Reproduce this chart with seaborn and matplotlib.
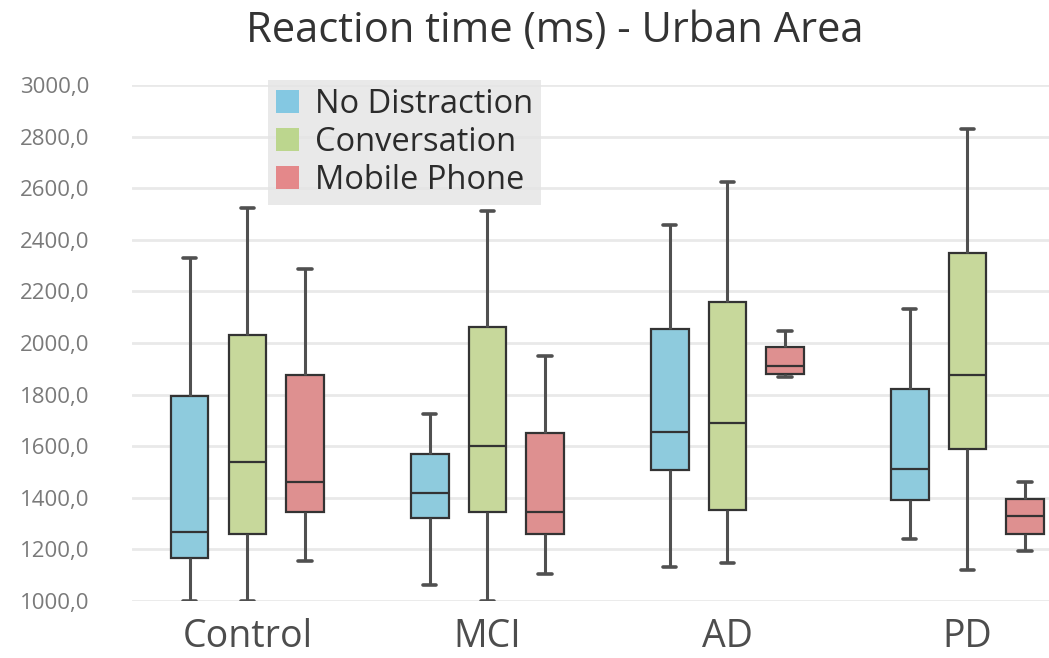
import numpy as np
import pandas as pd
import matplotlib
matplotlib.use("Agg")
import matplotlib.pyplot as plt
import seaborn as sns
from matplotlib.patches import Patch
from matplotlib.ticker import FuncFormatter

# five-number summaries: min, Q1, median, Q3, max
groups = ["Control", "MCI", "AD", "PD"]
conditions = ["No Distraction", "Conversation", "Mobile Phone"]

no_distraction = {
    "Control": [1000, 1165, 1269, 1796, 2328],
    "MCI": [1062, 1320, 1417, 1570, 1725],
    "AD": [1133, 1508, 1654, 2053, 2457],
    "PD": [1239, 1391, 1510, 1821, 2131],
}
conversation = {
    "Control": [1000, 1258, 1540, 2031, 2522],
    "MCI": [1000, 1346, 1602, 2061, 2512],
    "AD": [1146, 1353, 1689, 2158, 2625],
    "PD": [1120, 1588, 1876, 2350, 2828],
}
mobile_phone = {
    "Control": [1156, 1346, 1462, 1876, 2286],
    "MCI": [1105, 1260, 1346, 1652, 1951],
    "AD": [1869, 1880, 1912, 1983, 2047],
    "PD": [1195, 1260, 1329, 1395, 1462],
}

box_colors = ["#8ecbdd", "#c7d89b", "#de9090"]
legend_colors = ["#84c8e2", "#bcd68e", "#e4888a"]

# with five points, linear quartiles land exactly on Q1/median/Q3
rows = []
for cond, table in zip(conditions, [no_distraction, conversation, mobile_phone]):
    for g in groups:
        for v in table[g]:
            rows.append({"group": g, "condition": cond, "value": v})
df = pd.DataFrame(rows)

sns.set_theme(style="white")
plt.rcParams["font.family"] = ["Open Sans", "DejaVu Sans"]

fig = plt.figure(figsize=(10.49, 6.58), dpi=100)
ax = fig.add_axes([0.126, 0.0866, 0.874, 0.7842])

sns.boxplot(data=df, x="group", y="value", hue="condition", order=groups,
            hue_order=conditions, palette=box_colors, whis=np.inf,
            width=0.72, gap=0.35, linecolor="#333333", linewidth=1.6,
            saturation=1, legend=False, ax=ax,
            whiskerprops={"color": "#505050", "linewidth": 2.2},
            capprops={"color": "#505050", "linewidth": 2.6},
            capwidths=0.055)

ax.set_ylim(1000, 3000)
ax.set_xlim(-0.48, 3.34)
ax.set_yticks(np.arange(1000, 3001, 200))
ax.yaxis.set_major_formatter(FuncFormatter(lambda v, p: f"{v:.1f}".replace(".", ",")))
ax.grid(axis="y", color="#e9e9e9", linewidth=2)
ax.set_axisbelow(True)
for s in ax.spines.values():
    s.set_visible(False)
ax.tick_params(axis="y", length=0, pad=31, labelsize=16, labelcolor="#7a7a7a")
ax.tick_params(axis="x", length=0, pad=12, labelsize=27, labelcolor="#4d4d4d")
ax.set_xlabel("")
ax.set_ylabel("")

fig.text(0.529, 0.953, "Reaction time (ms) - Urban Area", ha="center", va="center",
         fontsize=30, color="#333333")

handles = [Patch(facecolor=c, edgecolor="none") for c in legend_colors]
leg = ax.legend(handles, conditions, loc="upper left", bbox_to_anchor=(0.148, 1.01),
                fontsize=23.5, frameon=True, fancybox=False, handlelength=0.7,
                handleheight=0.7, handletextpad=0.5, labelspacing=0.15,
                borderpad=0.25, borderaxespad=0)
leg.get_frame().set_facecolor("#e4e4e4")
leg.get_frame().set_edgecolor("none")
for t in leg.get_texts():
    t.set_color("#2b2b2b")

fig.savefig("out.png", dpi=100)
